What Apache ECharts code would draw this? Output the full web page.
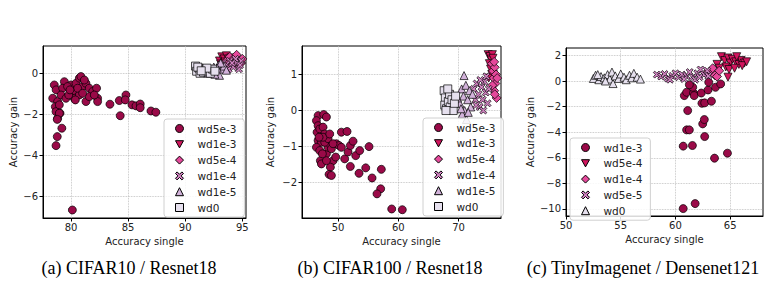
<!DOCTYPE html>
<html>
<head>
<meta charset="utf-8">
<script src="https://cdn.jsdelivr.net/npm/echarts@6/dist/echarts.min.js"></script>
<style>
  html, body { margin: 0; padding: 0; background: #fff; }
  #chart { width: 770px; height: 292px; }
</style>
</head>
<body>
<div id="chart"></div>
<script>
// --- data: (a) CIFAR10 / Resnet18 ---
var aWd5e3 = [[78.54,-0.57],[78.4,-1.22],[78.7,-0.81],[78.83,-1.38],[78.63,-1.63],[78.69,-1.87],[78.83,-2.2],[79.04,-1.95],
  [79.2,-2.68],[79.42,-0.41],[79.27,-0.73],[79.13,-1.06],[79.56,-1.22],[80.0,-0.57],[80.15,-0.89],[80.29,-1.22],[80.44,-0.49],
  [80.73,-0.24],[80.87,-0.16],[81.02,-0.65],[81.31,-0.49],[81.6,-0.73],[81.9,-0.89],[82.24,-0.73],[82.33,-1.22],[82.33,-1.38],
  [81.31,-1.38],[80.73,-1.06],[80.38,-1.3],[79.8,-1.06],[78.98,-1.54],[79.7,-0.65],[80.58,-0.73],[81.6,-1.14],[82.04,-1.06],
  [81.02,-0.98],[81.17,-0.33],[79.91,-0.81],[83.41,-1.51],[84.23,-1.33],[84.81,-1.06],[84.75,-1.3],[84.31,-2.07],[85.34,-1.54],
  [85.69,-1.59],[86.06,-1.5],[86.06,-1.68],[87.0,-1.84],[87.43,-1.9],[78.8,-3.09],[78.69,-3.53],[80.12,-6.67],[78.98,-1.95],[78.8,-2.25]];
var aWd1e3 = [[93.0,0.6],[93.2,0.8],[93.4,0.7],[93.6,0.85],[93.8,0.7],[94.0,0.75],[93.1,0.45],[93.5,0.55],[93.9,0.6]];
var aWd5e4 = [[93.6,0.6],[93.9,0.8],[94.2,0.7],[94.5,0.9],[94.7,0.6],[94.9,0.5],[94.4,0.45],[95.0,0.7],[93.8,0.5]];
var aWd1e4 = [[93.0,0.3],[93.3,0.5],[93.6,0.4],[93.9,0.6],[94.2,0.3],[94.5,0.5],[94.7,0.2],[94.9,0.6],[94.4,0.7],[93.8,0.2],[94.1,0.5],[94.8,0.4]];
var aWd1e5 = [[92.0,0.0],[92.3,0.15],[92.5,0.3],[92.7,0.1],[92.9,0.4],[93.0,-0.1],[93.2,0.2],[93.4,0.35],[93.1,0.5],[92.8,0.25],[93.6,0.15],[92.6,-0.05]];
var aWd0 = [[90.9,0.35],[91.0,0.1],[91.2,0.25],[91.3,0.0],[91.5,0.2],[91.6,0.05],[91.8,0.15],[92.0,0.1],[92.2,0.0],[92.4,0.2],[91.1,0.3],[91.9,0.25],[92.6,0.1],[91.4,0.12]];

// --- data: (b) CIFAR100 / Resnet18 ---
var bWd5e3 = [[46.69,-0.14],[47.62,-0.11],[48.07,-0.18],[46.41,-0.28],[46.69,-0.42],[46.52,-0.6],[46.96,-0.51],[47.51,-0.46],
  [47.79,-0.65],[46.69,-0.83],[47.24,-0.88],[46.41,-1.02],[46.96,-1.11],[47.07,-1.39],[47.24,-1.48],[48.07,-1.2],[48.34,-1.02],
  [48.62,-0.92],[48.9,-1.06],[49.17,-1.39],[48.73,-1.57],[48.51,-1.77],[48.9,-1.8],[49.61,-1.29],[49.72,-0.92],[50.17,-0.97],
  [50.55,-0.6],[51.49,-0.58],[50.55,-1.02],[51.1,-1.34],[51.66,-1.15],[52.04,-0.97],[52.49,-0.85],[52.93,-1.25],[53.59,-1.11],
  [55.14,-1.0],[52.04,-1.55],[53.48,-1.74],[54.59,-1.59],[55.64,-1.87],[57.18,-1.63],[57.07,-2.17],[56.46,-2.31],[58.9,-2.73],
  [60.66,-2.75],[47.79,-0.88],[48.34,-0.78],[47.51,-0.74],[49.17,-0.92],[48.07,-1.39],[47.4,-1.2],[48.62,-0.65],[46.85,-0.74]];
var bWd1e3 = [[74.9,1.55],[75.2,1.5],[75.4,1.4],[75.6,1.55],[75.1,1.3],[75.3,1.15],[75.5,1.0],[75.0,0.9],[75.7,1.45]];
var bWd5e4 = [[75.5,1.3],[75.7,1.1],[76.0,1.2],[75.8,0.9],[76.1,0.75],[75.9,0.55],[76.3,0.35],[76.2,1.0],[75.6,0.7],[76.4,0.9],[75.9,1.35],[76.0,0.45]];
var bWd1e4 = [[72.5,0.6],[72.8,0.3],[73.0,0.75],[73.3,0.45],[73.5,0.1],[73.8,0.65],[74.0,0.3],[74.3,0.8],[74.5,0.5],[74.8,0.2],[73.6,0.85],[74.1,0.0],[72.9,0.15],[75.0,0.6],[74.6,0.95]];
var bWd1e5 = [[70.9,0.97],[70.5,0.6],[70.8,0.4],[71.2,0.7],[70.2,0.2],[71.0,0.0],[71.5,0.3],[71.8,0.55],[70.6,-0.1],[71.3,-0.25],[72.0,0.1],[69.8,0.35],[72.3,0.45],[70.4,0.05],[71.6,-0.05]];
var bWd0 = [[67.6,0.55],[67.8,0.35],[67.7,0.15],[68.0,0.05],[68.3,0.25],[68.5,0.45],[68.6,0.1],[68.9,0.3],[69.1,0.0],[69.3,0.2],[68.2,0.6],[69.5,0.4],[67.9,0.0]];

// --- data: (c) TinyImagenet / Densenet121 ---
var cWd1e3 = [[60.71,-9.97],[61.8,-9.58],[60.71,-5.09],[61.55,-5.04],[63.57,-6.03],[64.75,-5.64],[61.02,-3.82],[61.27,-3.82],
  [62.67,-4.34],[62.49,-3.35],[62.64,-3.01],[61.12,-2.31],[62.42,-1.74],[62.67,-1.71],[63.29,-1.58],[60.81,-1.14],[61.02,-0.88],
  [61.65,-0.94],[61.71,-1.14],[62.36,-0.94],[62.98,-0.7],[63.66,-0.49],[64.13,-0.23],[61.58,-0.49],[61.27,-0.29],[63.04,-0.1]];
var cWd5e4 = [[64.2,1.9],[64.5,1.6],[64.8,1.8],[65.0,1.4],[65.2,1.7],[65.5,1.5],[65.8,1.3],[66.0,1.6],[66.3,1.4],[64.6,1.1],
  [64.9,0.9],[64.8,0.3],[65.4,1.0],[66.1,1.2],[63.8,1.3],[64.0,1.0],[65.6,1.9],[66.5,1.5]];
var cWd1e4 = [[63.2,0.75],[63.6,0.45],[63.8,0.35],[63.4,1.0],[62.8,0.6],[64.0,0.8]];
var cWd5e5 = [[58.3,0.5],[58.7,0.35],[59.0,0.55],[59.3,0.2],[59.7,0.4],[60.0,0.6],[60.3,0.3],[60.6,0.5],[61.0,0.4],[61.3,0.7],
  [61.6,0.3],[62.0,0.6],[62.3,0.9],[62.6,0.5],[62.9,0.8],[60.8,0.15],[61.8,0.1],[59.5,0.1],[62.2,0.3],[63.0,0.4]];
var cWd0 = [[52.5,0.2],[52.7,0.45],[53.0,0.1],[53.2,0.35],[53.5,0.25],[53.8,0.5],[54.0,0.15],[54.2,0.7],[54.3,-0.2],[54.5,0.4],
  [54.8,0.2],[55.0,0.55],[55.3,0.3],[55.5,0.1],[55.8,0.45],[56.0,0.25],[56.2,0.6],[56.5,0.3],[56.8,0.15],[52.9,0.5],[53.6,0.0]];

var xTicks = [[80, 85, 90, 95], [50, 60, 70], [50, 55, 60, 65]];
var yTicks = [[-6, -4, -2, 0], [-2, -1, 0, 1], [-10, -8, -6, -4, -2, 0, 2]];
var xRange = [[77.55, 95.32], [44.02, 77.03], [50, 68]];
var yRange = [[-7.06, 1.33], [-2.98, 1.79], [-10.55, 2.58]];
var captions = ['(a) CIFAR10 / Resnet18', '(b) CIFAR100 / Resnet18', '(c) TinyImagenet / Densenet121'];

var C1 = '#9a0a48', C2 = '#d2155e', C3 = '#e5489b', C4 = '#d283c2', C5 = '#d2b2da', C6 = '#e6e0ee';
var SYM = {
  circle: 'circle',
  down: 'path://M0,0 L10,0 L5,9 Z',
  diamond: 'diamond',
  cross: 'path://M2,0 L5,3 L8,0 L10,2 L7,5 L10,8 L8,10 L5,7 L2,10 L0,8 L3,5 L0,2 Z',
  up: 'triangle',
  square: 'rect'
};

var ink = '#222';
var grids = [
  { left: 43, top: 46, width: 203, height: 172 },
  { left: 302, top: 46, width: 199, height: 172 },
  { left: 566, top: 48, width: 197, height: 168 }
];
var yNameGap = [25, 27, 31];

function minus(v) { return String(v).replace('-', '\u2212'); }

var chart = echarts.init(document.getElementById('chart'), null, { renderer: 'svg' });
var xAxes = [], yAxes = [];
for (var i = 0; i < 3; i++) {
  grids[i].show = true;
  grids[i].borderColor = '#000';
  grids[i].borderWidth = 1;
  xAxes.push({
    type: 'value', gridIndex: i, min: xRange[i][0], max: xRange[i][1],
    name: 'Accuracy single', nameLocation: 'middle', nameGap: 18,
    nameTextStyle: { color: ink, fontSize: 10, fontFamily: 'DejaVu Sans' },
    axisLine: { onZero: false, lineStyle: { color: '#000', width: 1 } },
    axisTick: { inside: false, length: 3.5, lineStyle: { color: '#000' }, customValues: xTicks[i] },
    axisLabel: { color: ink, fontSize: 10, fontFamily: 'DejaVu Sans', margin: 4, customValues: xTicks[i], formatter: minus },
    splitLine: { show: true, lineStyle: { color: '#b8b8b8', type: 'dotted', width: 0.8 } }
  });
  yAxes.push({
    type: 'value', gridIndex: i, min: yRange[i][0], max: yRange[i][1],
    name: 'Accuracy gain', nameLocation: 'middle', nameGap: yNameGap[i],
    nameTextStyle: { color: ink, fontSize: 10, fontFamily: 'DejaVu Sans' },
    axisLine: { show: true, onZero: false, lineStyle: { color: '#000', width: 1 } },
    axisTick: { show: true, inside: false, length: 3.5, lineStyle: { color: '#000' }, customValues: yTicks[i] },
    axisLabel: { color: ink, fontSize: 10, fontFamily: 'DejaVu Sans', margin: 5, customValues: yTicks[i], formatter: minus },
    splitLine: { show: true, lineStyle: { color: '#b8b8b8', type: 'dotted', width: 0.8 } }
  });
}

function sc(name, idx, data, sym, size, color) {
  return {
    name: name, type: 'scatter', xAxisIndex: idx, yAxisIndex: idx, data: data,
    symbol: sym, symbolSize: size,
    itemStyle: { color: color, borderColor: '#000', borderWidth: 0.7, opacity: 1 },
    emphasis: { disabled: true }
  };
}

var series = [
  sc('a|wd5e-3', 0, aWd5e3, SYM.circle, 8, C1),
  sc('a|wd1e-3', 0, aWd1e3, SYM.down, 8, C2),
  sc('a|wd5e-4', 0, aWd5e4, SYM.diamond, 9, C3),
  sc('a|wd1e-4', 0, aWd1e4, SYM.cross, 7, C4),
  sc('a|wd1e-5', 0, aWd1e5, SYM.up, 8, C5),
  sc('a|wd0', 0, aWd0, SYM.square, 8, C6),
  sc('b|wd5e-3', 1, bWd5e3, SYM.circle, 8, C1),
  sc('b|wd1e-3', 1, bWd1e3, SYM.down, 8, C2),
  sc('b|wd5e-4', 1, bWd5e4, SYM.diamond, 9, C3),
  sc('b|wd1e-4', 1, bWd1e4, SYM.cross, 7, C4),
  sc('b|wd1e-5', 1, bWd1e5, SYM.up, 8, C5),
  sc('b|wd0', 1, bWd0, SYM.square, 8, C6),
  sc('c|wd1e-3', 2, cWd1e3, SYM.circle, 8, C1),
  sc('c|wd5e-4', 2, cWd5e4, SYM.down, 8, C2),
  sc('c|wd1e-4', 2, cWd1e4, SYM.diamond, 9, C3),
  sc('c|wd5e-5', 2, cWd5e5, SYM.cross, 7, C4),
  sc('c|wd0', 2, cWd0, SYM.up, 8, C6)
];

function legendFor(prefix, left, top) {
  var names = series.filter(function (s) { return s.name.indexOf(prefix + '|') === 0; })
    .map(function (s) { return { name: s.name, icon: s.symbol }; });
  return {
    data: names, orient: 'vertical', left: left, top: top,
    padding: [4, 8, 4, 11], itemGap: 4.8, itemWidth: 8, itemHeight: 8,
    backgroundColor: 'rgba(255,255,255,0.85)', borderColor: '#d0d0d0', borderWidth: 1, borderRadius: 3,
    selectedMode: false,
    itemStyle: { borderColor: '#000', borderWidth: 1 },
    textStyle: { color: ink, fontSize: 10.5, fontFamily: 'DejaVu Sans', padding: [0, 0, 0, 9] },
    formatter: function (n) { return n.split('|')[1]; }
  };
}

var graphic = captions.map(function (t, i) {
  return {
    type: 'text', x: [129, 390, 643][i], y: 268,
    style: { text: t, fill: '#000', font: '18px "Liberation Serif"', textAlign: 'center', textVerticalAlign: 'middle' }
  };
});

chart.setOption({
  animation: false,
  grid: grids,
  xAxis: xAxes,
  yAxis: yAxes,
  legend: [legendFor('a', 164, 119), legendFor('b', 423, 118), legendFor('c', 570, 138)],
  graphic: graphic,
  series: series
});
</script>
</body>
</html>
